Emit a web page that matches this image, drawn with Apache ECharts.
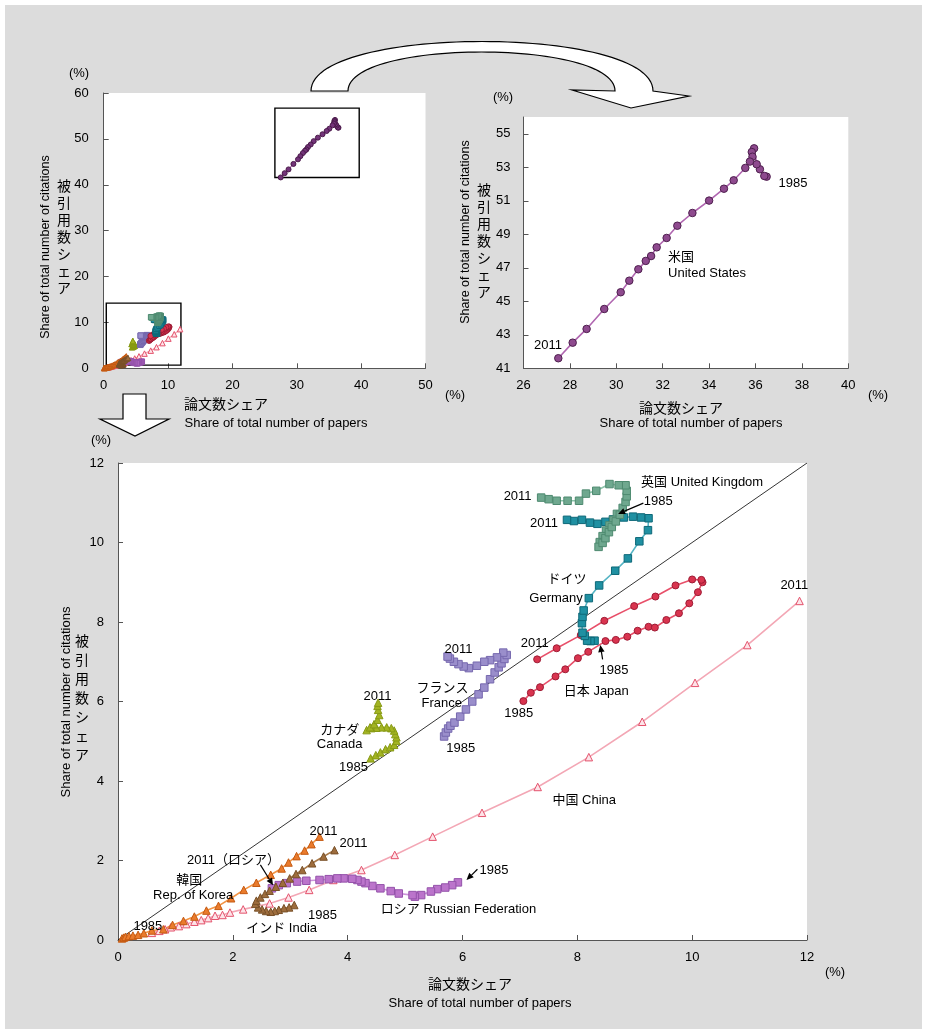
<!DOCTYPE html>
<html><head><meta charset="utf-8">
<script src="https://cdn.jsdelivr.net/npm/echarts@6/dist/echarts.min.js"></script>
<style>
html,body{margin:0;padding:0;background:#fff}
#bg{position:absolute;left:5px;top:5px;width:917px;height:1024px;background:#dcdcdc}
#c{position:absolute;left:0;top:0;width:927px;height:1032px}
</style>
</head><body><div id="bg"></div><div id="c"></div><script>
// ---------------- DATA (share of papers %, share of citations %) 1985 -> 2011 ----------------
const usData = [[36.48,52.44],[36.38,52.48],[36.19,52.88],[36.05,53.18],[35.94,54.13],[35.84,53.91],[35.87,53.63],[35.76,53.34],[35.56,52.96],[35.06,52.22],[34.64,51.72],[34.00,51.01],[33.28,50.27],[32.63,49.51],[32.17,48.78],[31.74,48.22],[31.50,47.70],[31.27,47.41],[30.95,46.91],[30.56,46.23],[30.19,45.54],[29.48,44.54],[28.72,43.35],[28.12,42.53],[27.50,41.60]];
const ukData = [[8.69,10.72],[8.63,10.57],[8.56,10.43],[8.50,10.30],[8.44,10.16],[8.39,10.01],[8.37,9.89],[8.44,9.99],[8.49,10.11],[8.55,10.26],[8.60,10.39],[8.67,10.53],[8.74,10.70],[8.79,10.87],[8.84,11.02],[8.86,11.16],[8.86,11.30],[8.84,11.44],[8.72,11.44],[8.56,11.47],[8.33,11.30],[8.15,11.23],[8.03,11.05],[7.83,11.05],[7.64,11.05],[7.50,11.09],[7.37,11.13]];
const deData = [[8.30,7.53],[8.23,7.52],[8.17,7.53],[8.13,7.65],[8.09,7.73],[8.08,7.97],[8.09,8.13],[8.11,8.29],[8.20,8.60],[8.38,8.92],[8.66,9.29],[8.88,9.60],[9.08,10.03],[9.23,10.31],[9.24,10.61],[9.11,10.63],[8.97,10.65],[8.81,10.63],[8.62,10.58],[8.49,10.52],[8.35,10.47],[8.22,10.50],[8.08,10.57],[7.94,10.54],[7.82,10.57]];
const jpData = [[7.06,6.01],[7.19,6.22],[7.35,6.36],[7.62,6.63],[7.79,6.81],[8.01,7.09],[8.19,7.25],[8.49,7.52],[8.67,7.55],[8.87,7.63],[9.05,7.78],[9.24,7.88],[9.35,7.86],[9.55,8.05],[9.77,8.22],[9.95,8.47],[10.10,8.75],[10.18,9.00],[10.16,9.06],[10.00,9.07],[9.71,8.92],[9.36,8.64],[8.99,8.40],[8.47,8.03],[8.06,7.67],[7.64,7.34],[7.30,7.06]];
const frData = [[5.68,5.12],[5.71,5.22],[5.75,5.32],[5.79,5.39],[5.86,5.47],[5.96,5.62],[6.06,5.80],[6.17,6.00],[6.28,6.18],[6.38,6.35],[6.48,6.56],[6.56,6.73],[6.63,6.86],[6.68,6.96],[6.73,7.07],[6.77,7.17],[6.71,7.23],[6.60,7.11],[6.48,7.04],[6.38,7.00],[6.25,6.90],[6.11,6.84],[6.02,6.88],[5.93,6.94],[5.85,7.00],[5.78,7.08],[5.74,7.13]];
const caData = [[4.40,4.57],[4.49,4.65],[4.57,4.72],[4.66,4.80],[4.74,4.85],[4.81,4.91],[4.85,5.01],[4.85,5.10],[4.83,5.18],[4.81,5.27],[4.76,5.33],[4.68,5.35],[4.59,5.35],[4.50,5.34],[4.41,5.33],[4.33,5.28],[4.39,5.35],[4.46,5.43],[4.52,5.54],[4.55,5.66],[4.53,5.79],[4.52,5.89],[4.53,5.97]];
const cnData = [[0.59,0.18],[0.72,0.23],[0.82,0.27],[0.92,0.32],[1.06,0.35],[1.19,0.40],[1.33,0.46],[1.45,0.50],[1.57,0.55],[1.69,0.61],[1.82,0.63],[1.95,0.69],[2.18,0.77],[2.64,0.92],[2.97,1.07],[3.33,1.26],[3.75,1.51],[4.24,1.76],[4.82,2.14],[5.48,2.60],[6.34,3.20],[7.31,3.85],[8.20,4.60],[9.13,5.49],[10.05,6.47],[10.96,7.42],[11.87,8.53]];
const krData = [[0.07,0.04],[0.10,0.06],[0.13,0.08],[0.19,0.10],[0.26,0.11],[0.35,0.13],[0.45,0.17],[0.59,0.24],[0.79,0.27],[0.95,0.38],[1.14,0.48],[1.33,0.59],[1.54,0.74],[1.75,0.86],[1.97,1.05],[2.19,1.26],[2.41,1.44],[2.66,1.64],[2.85,1.80],[2.97,1.95],[3.11,2.11],[3.25,2.25],[3.37,2.41],[3.51,2.60]];
const inData = [[3.07,0.88],[2.98,0.82],[2.89,0.80],[2.80,0.76],[2.73,0.73],[2.66,0.71],[2.58,0.73],[2.51,0.77],[2.44,0.82],[2.39,0.91],[2.41,0.99],[2.48,1.07],[2.56,1.16],[2.64,1.24],[2.75,1.34],[2.87,1.44],[2.99,1.55],[3.10,1.66],[3.21,1.76],[3.38,1.93],[3.58,2.10],[3.77,2.26]];
const ruData = [[5.92,1.45],[5.82,1.38],[5.70,1.32],[5.56,1.28],[5.45,1.22],[5.28,1.13],[5.17,1.09],[5.13,1.13],[4.89,1.17],[4.75,1.23],[4.57,1.30],[4.43,1.36],[4.31,1.43],[4.24,1.47],[4.17,1.51],[4.08,1.54],[3.93,1.55],[3.82,1.55],[3.67,1.53],[3.51,1.51],[3.28,1.49],[3.12,1.47],[2.94,1.43],[2.80,1.38],[2.68,1.30]];
const diagonal = [[0,0],[12,12]];

// tick labels
const usYTicks = [41,43,45,47,49,51,53,55];

// annotation boxes on the overview chart
const usBox = [[26.6,41.6],[39.7,56.7]];
const smallBox = [[0.4,0.7],[12.0,14.2]];

// ---------------- STYLES ----------------
const FONT = "'Liberation Sans','Noto Sans CJK JP',sans-serif";
const C = {
  us:{fill:'#8e4a8e',border:'#4e1f4e',line:'#b066b0',sym:'circle'},
  uk:{fill:'#6fa88f',border:'#4e8a70',line:'#8ec4ab',sym:'rect'},
  de:{fill:'#1f90a2',border:'#0e6878',line:'#55b4c4',sym:'rect'},
  jp:{fill:'#d9344f',border:'#9e1c35',line:'#e8506a',sym:'circle'},
  fr:{fill:'#9a8ecb',border:'#7668ae',line:'#b2a8dc',sym:'rect'},
  ca:{fill:'#a3b422',border:'#879a14',line:'#b9c84a',sym:'triangle'},
  cn:{fill:'#fde3e8',border:'#e4526c',line:'#f3a7b5',sym:'triangle'},
  kr:{fill:'#ea7b2c',border:'#c45a12',line:'#f39444',sym:'triangle'},
  in:{fill:'#9e6d3d',border:'#785028',line:'#a97a4a',sym:'triangle'},
  ru:{fill:'#bb74cb',border:'#9452aa',line:'#cc92da',sym:'rect'}
};

function ax(min,max,interval,margin){
  return {type:'value',min:min,max:max,interval:interval,
    axisLine:{show:true,onZero:false,lineStyle:{color:'#555',width:1}},
    axisTick:{show:true,inside:true,length:5,lineStyle:{color:'#555'}},
    splitLine:{show:false},
    axisLabel:{color:'#000',fontSize:13,fontFamily:FONT,margin:margin}};
}
function ser(key,data,g,size,extra){
  const c = C[key];
  return Object.assign({type:'line',data:data,xAxisIndex:g,yAxisIndex:g,
    symbol:c.sym,symbolSize:size,showSymbol:true,showAllSymbol:true,
    lineStyle:{color:c.line,width:g===2?1.6:1.2},
    itemStyle:{color:c.fill,borderColor:c.border,borderWidth:1},
    z:3,silent:true,animation:false},extra||{});
}

const usY = ax(41,56,1,13);
usY.axisTick.customValues = usYTicks;
usY.axisLabel.customValues = usYTicks;
usY.axisLabel.formatter = function(v){ return usYTicks.indexOf(v)>=0 ? String(v) : ''; };

const boxStyle = {color:'rgba(0,0,0,0)',borderColor:'#000',borderWidth:1.4};

const order = ['cn','ru','kr','in','ca','fr','jp','de','uk'];
const dataMap = {cn:cnData,ru:ruData,kr:krData,in:inData,ca:caData,fr:frData,jp:jpData,de:deData,uk:ukData};

const series = [];
// overview (grid 0)
order.forEach(function(k){
  const s = ser(k,dataMap[k],0,5.5);
  if(k==='cn'){ s.markArea = {silent:true,itemStyle:boxStyle,data:[[{coord:smallBox[0]},{coord:smallBox[1]}]]}; }
  series.push(s);
});
const usOv = ser('us',usData,0,5,{itemStyle:{color:'#74347a',borderColor:'#4a1a4a',borderWidth:1}});
usOv.markArea = {silent:true,itemStyle:boxStyle,data:[[{coord:usBox[0]},{coord:usBox[1]}]]};
series.push(usOv);
// US detail (grid 1)
series.push(ser('us',usData,1,7.5,{lineStyle:{color:'#b066b0',width:1.6}}));
// main (grid 2)
series.push({type:'line',data:diagonal,xAxisIndex:2,yAxisIndex:2,symbol:'none',
  lineStyle:{color:'#000',width:0.8},z:2,silent:true,animation:false});
order.forEach(function(k){ series.push(ser(k,dataMap[k],2,k==='jp'?7:7.5)); });

const option = {
  animation:false,
  backgroundColor:'transparent',
  grid:[
    {left:103.7,top:93,width:321.8,height:275.3,show:true,backgroundColor:'#fff',borderWidth:0,containLabel:false},
    {left:523.5,top:117,width:324.8,height:251.3,show:true,backgroundColor:'#fff',borderWidth:0,containLabel:false},
    {left:118,top:463,width:689,height:477,show:true,backgroundColor:'#fff',borderWidth:0,containLabel:false}
  ],
  xAxis:[
    Object.assign(ax(0,50,10,11),{gridIndex:0}),
    Object.assign(ax(26,40,2,11),{gridIndex:1}),
    Object.assign(ax(0,12,2,11),{gridIndex:2})
  ],
  yAxis:[
    Object.assign(ax(0,60,10,15),{gridIndex:0}),
    Object.assign(usY,{gridIndex:1}),
    Object.assign(ax(0,12,2,14),{gridIndex:2})
  ],
  series:series
};

const chart = echarts.init(document.getElementById('c'),null,{renderer:'canvas',width:927,height:1032});
chart.setOption(option);

// ---------------- ANNOTATIONS (anchored in data coordinates) ----------------
const mainNotes = [
  [6.96,11.15,'2011'],[9.41,11.04,'1985'],[9.11,11.52,'英国 United Kingdom','left'],
  [7.42,10.49,'2011'],[7.82,9.06,'ドイツ'],[7.63,8.60,'Germany'],
  [7.26,7.47,'2011'],[8.64,6.79,'1985'],[8.33,6.26,'日本 Japan'],[6.98,5.71,'1985'],
  [11.78,8.93,'2011'],[8.12,3.50,'中国 China'],
  [5.93,7.30,'2011'],[5.65,6.34,'フランス'],[5.64,5.96,'France'],[5.97,4.83,'1985'],
  [4.52,6.14,'2011'],[3.86,5.26,'カナダ'],[3.86,4.91,'Canada'],[4.10,4.35,'1985'],
  [3.58,2.74,'2011'],[4.10,2.44,'2011'],[2.01,2.01,'2011（ロシア）'],
  [1.24,1.51,'韓国'],[1.31,1.13,'Rep. of Korea'],[0.52,0.35,'1985'],
  [3.56,0.63,'1985'],[2.85,0.30,'インド India'],
  [5.93,0.76,'ロシア Russian Federation'],[6.55,1.74,'1985']
];
const usNotes = [[37.62,52.06,'1985'],[27.06,42.39,'2011'],[32.23,47.64,'米国','left'],[32.23,46.69,'United States','left']];
const mainArrows = [[[9.15,10.99],[8.71,10.72]],[[8.44,7.06],[8.40,7.42]],[[2.48,1.89],[2.70,1.38]],[[6.26,1.78],[6.07,1.51]]];

function txt(x,y,text,align,size,rot){
  const e = {type:'text',x:x,y:y,z:50,silent:true,
    style:{text:text,fill:'#000',fontSize:size||13,fontFamily:FONT,
      textAlign:align||'center',textVerticalAlign:'middle',align:align||'center',verticalAlign:'middle'}};
  if(rot){ e.rotation = rot; }
  return e;
}
const g = [];
mainNotes.forEach(function(n){ const p = chart.convertToPixel({gridIndex:2},[n[0],n[1]]); g.push(txt(p[0],p[1],n[2],n[3])); });
usNotes.forEach(function(n){ const p = chart.convertToPixel({gridIndex:1},[n[0],n[1]]); g.push(txt(p[0],p[1],n[2],n[3])); });
mainArrows.forEach(function(a){
  const p0 = chart.convertToPixel({gridIndex:2},a[0]);
  const p1 = chart.convertToPixel({gridIndex:2},a[1]);
  const dx = p1[0]-p0[0], dy = p1[1]-p0[1], L = Math.sqrt(dx*dx+dy*dy);
  const ux = dx/L, uy = dy/L, hl = 7, hw = 3.2;
  const bx = p1[0]-ux*hl, by = p1[1]-uy*hl;
  g.push({type:'line',z:49,silent:true,shape:{x1:p0[0],y1:p0[1],x2:bx,y2:by},style:{stroke:'#000',lineWidth:1.2}});
  g.push({type:'polygon',z:49,silent:true,shape:{points:[[p1[0],p1[1]],[bx-uy*hw,by+ux*hw],[bx+uy*hw,by-ux*hw]]},style:{fill:'#000'}});
});

// axis titles & units
const vJa = '被\n引\n用\n数\nシ\nェ\nア';
function vtext(x,y,lh){
  return {type:'text',x:x,y:y,z:50,silent:true,style:{text:vJa,fill:'#000',fontSize:14,lineHeight:lh,fontFamily:FONT,textAlign:'center',textVerticalAlign:'middle',align:'center',verticalAlign:'middle'}};
}
g.push(txt(79,73,'(%)'));
g.push(txt(46,247,'Share of total number of citations','center',12.5,Math.PI/2));
g.push(vtext(64,238,17));
g.push(txt(226,405,'論文数シェア','center',14));
g.push(txt(276,423,'Share of total number of papers'));
g.push(txt(455,395,'(%)'));

g.push(txt(503,97,'(%)'));
g.push(txt(466,232,'Share of total number of citations','center',12.5,Math.PI/2));
g.push(vtext(484,242,17));
g.push(txt(681,409,'論文数シェア','center',14));
g.push(txt(691,423,'Share of total number of papers'));
g.push(txt(878,395,'(%)'));

g.push(txt(101,440,'(%)'));
g.push(txt(66,702,'Share of total number of citations','center',13,Math.PI/2));
g.push(vtext(82,699,19));
g.push(txt(470,985,'論文数シェア','center',14));
g.push(txt(480,1003,'Share of total number of papers'));
g.push(txt(835,972,'(%)'));

// connector arrows between panels (bezier outlines sampled into polygons)
function cubic(p0,p1,p2,p3,n){
  const pts = [];
  for(let i=0;i<=n;i++){
    const t=i/n, u=1-t;
    pts.push([u*u*u*p0[0]+3*u*u*t*p1[0]+3*u*t*t*p2[0]+t*t*t*p3[0],
              u*u*u*p0[1]+3*u*u*t*p1[1]+3*u*t*t*p2[1]+t*t*t*p3[1]]);
  }
  return pts;
}
let curved = cubic([311,91],[311,25],[653,25],[653,91],60);
curved = curved.concat([[689,96],[631,108],[572,90]]);
curved = curved.concat(cubic([615,91],[615,39],[348,39],[348,91],60));
g.push({type:'polygon',z:40,silent:true,shape:{points:curved},style:{fill:'#fff',stroke:'#000',lineWidth:1.2}});
g.push({type:'polygon',z:40,silent:true,
  shape:{points:[[123,394],[146,394],[146,419],[169,419],[135,436],[100,419],[123,419]]},
  style:{fill:'#fff',stroke:'#000',lineWidth:1.2}});

chart.setOption({graphic:{elements:g}});
</script></body></html>
